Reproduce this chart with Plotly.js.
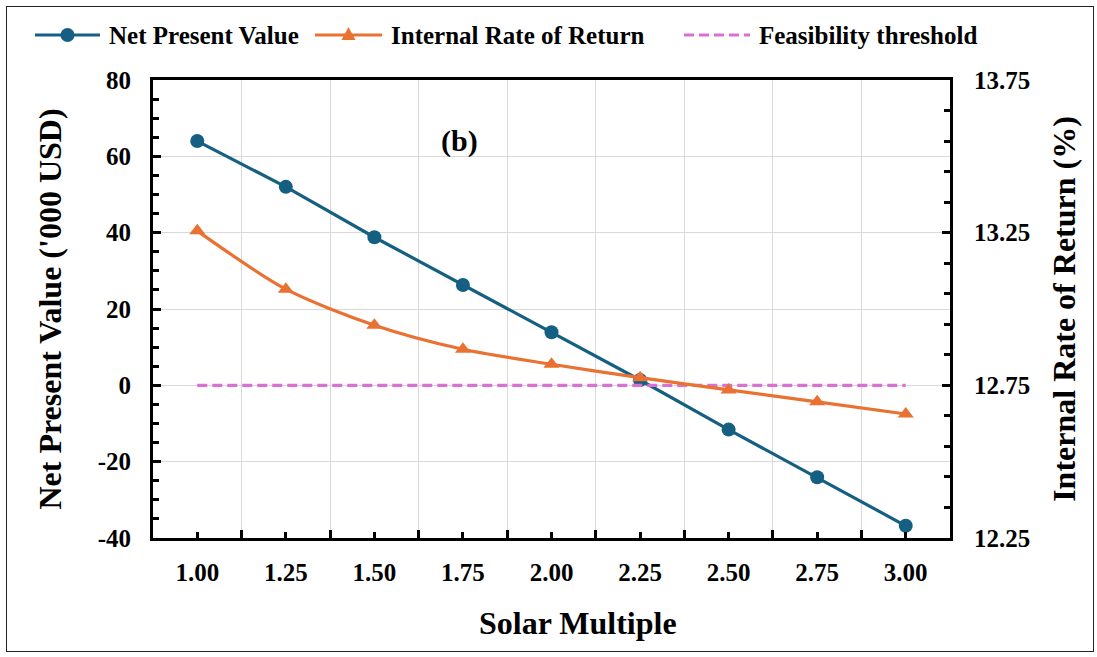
<!DOCTYPE html>
<html>
<head>
<meta charset="utf-8">
<script src="https://cdn.plot.ly/plotly-3.0.1.min.js"></script>
<style>
html,body{margin:0;padding:0;background:#fff;}
#wrap{position:relative;width:1097px;height:657px;}
#chart{position:absolute;left:0;top:0;width:1097px;height:657px;}
#frame{position:absolute;left:6px;top:6px;width:1086px;height:644px;border:1px solid #222;pointer-events:none;}
</style>
</head>
<body>
<div id="wrap"><div id="chart"></div><div id="frame"></div></div>
<script>
const solarMultiple = [1.00, 1.25, 1.50, 1.75, 2.00, 2.25, 2.50, 2.75, 3.00];
const xTickLabels = ["1.00","1.25","1.50","1.75","2.00","2.25","2.50","2.75","3.00"];
const npvTicks = [-40, -20, 0, 20, 40, 60, 80];
const npvTickLabels = ["-40", "-20", "0", "20", "40", "60", "80"];
const irrTicks = [12.25, 12.75, 13.25, 13.75];
const irrTickLabels = ["12.25", "12.75", "13.25", "13.75"];
const npv = [64, 52, 38.8, 26.3, 13.9, 1.4, -11.6, -24.1, -36.8];
const irr = [13.256, 13.065, 12.947, 12.868, 12.819, 12.775, 12.735, 12.696, 12.656];
const threshold = [0, 0, 0, 0, 0, 0, 0, 0, 0];
const seriesNames = ["Net Present Value", "Internal Rate of Return", "Feasibility threshold"];

const FONT = "Liberation Serif, Times New Roman, serif";
const C_NPV = "#156082", C_IRR = "#E97132", C_TH = "#DA70D6";

const traces = [
  {x: solarMultiple, y: npv, name: seriesNames[0], type: "scatter", mode: "lines+markers",
   line: {color: C_NPV, width: 3.2}, marker: {symbol: "circle", size: 14, color: C_NPV}, yaxis: "y"},
  {x: solarMultiple, y: irr, name: seriesNames[1], type: "scatter", mode: "lines+markers",
   line: {color: C_IRR, width: 3.2, shape: "spline", smoothing: 0.8}, marker: {symbol: "triangle-up", size: 14, color: C_IRR}, yaxis: "y2"},
  {x: solarMultiple, y: threshold, name: seriesNames[2], type: "scatter", mode: "lines",
   line: {color: C_TH, width: 3.2, dash: "10px,5px"}, yaxis: "y"}
];

// legend geometry (pixels -> paper)
const L = 153, R = 950, T = 80, B = 538;
const px = v => (v - L) / (R - L);
const py = v => (B - v) / (B - T);
const legY = py(35);

const legendShapes = [
  {type: "line", xref: "paper", yref: "paper", x0: px(35), x1: px(100), y0: legY, y1: legY, line: {color: C_NPV, width: 3.2}},
  {type: "circle", xref: "paper", yref: "paper", xsizemode: "pixel", ysizemode: "pixel", xanchor: px(67.5), yanchor: legY,
   x0: -7, x1: 7, y0: -7, y1: 7, fillcolor: C_NPV, line: {color: C_NPV, width: 0}},
  {type: "line", xref: "paper", yref: "paper", x0: px(315), x1: px(382), y0: legY, y1: legY, line: {color: C_IRR, width: 3.2}},
  {type: "path", xref: "paper", yref: "paper", xsizemode: "pixel", ysizemode: "pixel", xanchor: px(348.5), yanchor: legY,
   path: "M-7,-5 L7,-5 L0,8 Z", fillcolor: C_IRR, line: {color: C_IRR, width: 0}},
  {type: "line", xref: "paper", yref: "paper", x0: px(684), x1: px(750), y0: legY, y1: legY, line: {color: C_TH, width: 3.2, dash: "10px,5px"}}
];

const legendTexts = [
  {text: seriesNames[0], x: px(107)},
  {text: seriesNames[1], x: px(389)},
  {text: seriesNames[2], x: px(757)}
].map(o => ({text: o.text, xref: "paper", yref: "paper", x: o.x, y: legY, xanchor: "left", yanchor: "middle",
  showarrow: false, font: {family: FONT, size: 25, weight: "bold", color: "#000"}}));

const layout = {
  width: 1097, height: 657,
  margin: {l: 153, r: 147, t: 80, b: 119},
  paper_bgcolor: "#fff", plot_bgcolor: "#fff",
  font: {family: FONT, color: "#000", size: 25, weight: "bold"},
  showlegend: false,
  xaxis: {
    range: [0.875, 3.125], tickmode: "array", tickvals: solarMultiple, ticktext: xTickLabels,
    ticks: "inside", ticklen: 6, tickwidth: 3, tickcolor: "#000",
    showline: true, linewidth: 3, linecolor: "#000", mirror: true,
    showgrid: false, zeroline: false,
    minor: {tickmode: "linear", tick0: 1.125, dtick: 0.25, ticks: "inside", ticklen: 8, tickwidth: 3, tickcolor: "#000",
            showgrid: true, gridcolor: "#d9d9d9", gridwidth: 1},
    tickfont: {family: FONT, size: 25, weight: "bold"},
    ticklabelstandoff: 10
  },
  yaxis: {
    range: [-40, 80], tickmode: "array", tickvals: npvTicks, ticktext: npvTickLabels,
    ticks: "inside", ticklen: 8, tickwidth: 3, tickcolor: "#000",
    minor: {tickmode: "linear", tick0: -40, dtick: 5, ticks: "inside", ticklen: 6, tickwidth: 3, tickcolor: "#000", showgrid: false},
    showline: true, linewidth: 3, linecolor: "#000",
    showgrid: true, gridcolor: "#d9d9d9", gridwidth: 1, zeroline: false,
    tickfont: {family: FONT, size: 25, weight: "bold"},
    ticklabelstandoff: 14,
    title: {text: "Net Present Value ('000 USD)", font: {family: FONT, size: 32, weight: "bold"}, standoff: 27}
  },
  yaxis2: {
    range: [12.25, 13.75], overlaying: "y", side: "right", tickmode: "array", tickvals: irrTicks, ticktext: irrTickLabels,
    ticks: "inside", ticklen: 8, tickwidth: 3, tickcolor: "#000",
    minor: {tickmode: "linear", tick0: 12.25, dtick: 0.1, ticks: "inside", ticklen: 6, tickwidth: 3, tickcolor: "#000", showgrid: false},
    showline: true, linewidth: 3, linecolor: "#000",
    showgrid: false, zeroline: false,
    tickfont: {family: FONT, size: 25, weight: "bold"},
    ticklabelstandoff: 16,
    title: {text: "Internal Rate of Return (%)", font: {family: FONT, size: 32, weight: "bold"}, standoff: 24}
  },
  shapes: legendShapes,
  annotations: [
    {text: "(b)", xref: "paper", yref: "paper", x: 0.385, y: 0.867, yanchor: "middle", xanchor: "center", showarrow: false,
     font: {family: FONT, size: 30, weight: "bold", color: "#000"}},
    {text: "Solar Multiple", xref: "paper", yref: "paper", x: px(578), y: py(623), yanchor: "middle", xanchor: "center", showarrow: false,
     font: {family: FONT, size: 32, weight: "bold", color: "#000"}}
  ].concat(legendTexts)
};

Plotly.newPlot("chart", traces, layout, {displayModeBar: false, staticPlot: true});
</script>
</body>
</html>
